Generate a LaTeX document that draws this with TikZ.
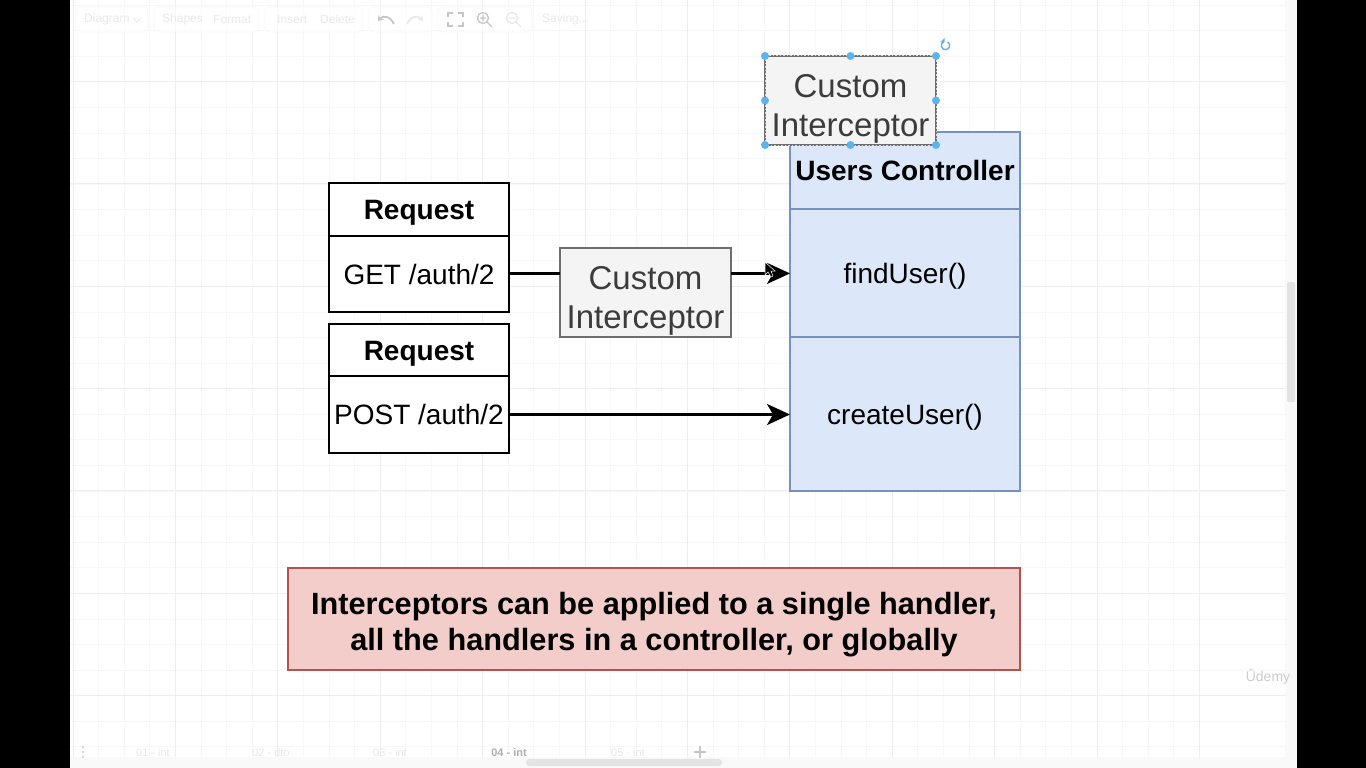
\documentclass[tikz,border=0pt]{standalone}
\usepackage{fontspec}
\setmainfont{Liberation Sans}
\usepackage{xcolor}
\usetikzlibrary{arrows.meta, positioning, calc}
\definecolor{ctrl_blue}{HTML}{DCE7F9}
\definecolor{ctrl_edge}{HTML}{7691BF}
\definecolor{note_red}{HTML}{F2CDCA}
\definecolor{note_edge}{HTML}{B25350}
\definecolor{guard_fill}{HTML}{F4F4F4}
\definecolor{guard_edge}{HTML}{6E6E6E}
\definecolor{guard_text}{HTML}{3C3C3C}
\definecolor{handle_blue}{HTML}{5CB4EE}
\definecolor{grid_major}{HTML}{EEEEEE}
\definecolor{grid_minor}{HTML}{F7F7F7}
\definecolor{ghost}{HTML}{E9E9E9}
\definecolor{bar_grey}{HTML}{F9F9F9}
\definecolor{thumb_grey}{HTML}{E3E3E3}
\tikzset{
  reqbox/.style={draw=black, line width=2.2pt, fill=white, minimum width=180pt, outer sep=0pt, inner sep=0pt, text height=20pt, text depth=0pt, font=\fontsize{28}{30}\selectfont},
  ctrlbox/.style={draw=ctrl_edge, line width=2.4pt, fill=ctrl_blue, minimum width=230pt, outer sep=0pt, inner sep=0pt, text height=20pt, text depth=0pt, font=\fontsize{28}{30}\selectfont},
  guardbox/.style={draw=guard_edge, line width=2.4pt, fill=guard_fill, text=guard_text, minimum width=171pt, minimum height=89pt, outer sep=0pt, inner sep=0pt, align=center, text height=71pt, text depth=0pt, font=\fontsize{33}{38.5}\selectfont},
  flow/.style={line width=2.2pt, draw=black},
  flowtip/.style={-{Stealth[length=23pt, width=21pt, inset=6pt]}},
  handle/.style={circle, fill=handle_blue, minimum size=8pt, inner sep=0pt},
  ghosttext/.style={text=ghost, inner sep=0pt, font=\fontsize{12}{14}\selectfont},
  tabtext/.style={text=ghost, inner sep=0pt, font=\fontsize{11}{14}\selectfont},
  pill/.style={draw=grid_minor, fill=white, fill opacity=0.5, rounded corners=4pt, line width=0.6pt}
}
\begin{document}
\begin{tikzpicture}[x=1pt, y=-1pt]
  \useasboundingbox (0,0) rectangle (1366,768);
  % page and grid
  \fill[white] (0,0) rectangle (1366,768);
  \foreach \gx in {0,...,44} {
    \draw[grid_minor, line width=0.8pt] ({73+25.6*\gx},0) -- ({73+25.6*\gx},768);
  }
  \foreach \gy in {0,...,29} {
    \draw[grid_minor, line width=0.8pt] (70,{5+25.58*\gy}) -- (1297,{5+25.58*\gy});
  }
  \foreach \gx in {0,...,11} {
    \draw[grid_major, line width=0.8pt] ({73+102.4*\gx},0) -- ({73+102.4*\gx},768);
  }
  \foreach \gy in {0,...,6} {
    \draw[grid_major, line width=0.8pt] (70,{81.4+102.3*\gy}) -- (1297,{81.4+102.3*\gy});
  }
  % faded toolbar
  \draw[pill] (76,7) rectangle (148,32);
  \draw[pill] (154,7) rectangle (258,32);
  \draw[pill] (265,7) rectangle (362,32);
  \draw[pill] (369,7) rectangle (432,32);
  \draw[pill] (438,7) rectangle (532,32);
  \node[ghosttext, anchor=west] (menu_diagram) at (84,19.5) {Diagram};
  \node[ghosttext, anchor=west] (menu_shapes) at (162,19.5) {Shapes};
  \node[ghosttext, anchor=west] (menu_format) at (213,19.5) {Format};
  \node[ghosttext, anchor=west] (menu_insert) at (277,19.5) {Insert};
  \node[ghosttext, anchor=west] (menu_delete) at (320,19.5) {Delete};
  \node[ghosttext, anchor=west] (menu_saving) at (542,19.5) {Saving...};
  \draw[ghost, line width=0.9pt] (133,18) -- (137,22) -- (141,18);
  \draw[ghost!85!black, line width=1.8pt, {Stealth[length=5pt, width=7pt]}-] (378,21) .. controls (383,15) and (390,16) .. (394,24);
  \draw[ghost, line width=1.8pt, -{Stealth[length=5pt, width=7pt]}] (407,24) .. controls (411,16) and (418,15) .. (423,21);
  \draw[ghost!85!black, line width=1.4pt] (448,17) -- (448,13) -- (453,13) (458,13) -- (463,13) -- (463,17)
    (463,22) -- (463,26) -- (458,26) (453,26) -- (448,26) -- (448,22);
  \draw[ghost!85!black, line width=1.3pt] (483,18) circle (5.5pt) (487,22) -- (492,27) (480,18) -- (486,18) (483,15) -- (483,21);
  \draw[ghost, line width=1.3pt] (512,18) circle (5.5pt) (516,22) -- (521,27) (509,18) -- (515,18);
  % faded tabs and scroll bars
  \fill[bar_grey] (1285,0) rectangle (1297,768);
  \fill[bar_grey] (70,757) rectangle (1297,768);
  \fill[thumb_grey, rounded corners=2pt] (1287,282) rectangle (1295,402);
  \fill[thumb_grey, rounded corners=3pt] (526,759) rectangle (722,766);
  \foreach \dy in {747,752,757} {
    \fill[ghost!85!black] (83,\dy) circle (1.2pt);
  }
  \node[tabtext] (tab_one) at (153,753) {01 - int};
  \node[tabtext] (tab_two) at (271,753) {02 - dto};
  \node[tabtext] (tab_three) at (390,753) {03 - int};
  \node[tabtext, text=ghost!75!black, font=\fontsize{11}{14}\selectfont\bfseries] (tab_four) at (509,753) {04 - int};
  \node[tabtext] (tab_five) at (628,753) {05 - int};
  \draw[ghost!85!black, line width=2.2pt] (694,752) -- (706,752) (700,746) -- (700,758);
  \node[ghosttext, text=white!80!black, font=\fontsize{14}{16}\selectfont] (udemy) at (1268,677) {Ûdemy};
  % black side bands
  \fill[black] (0,0) rectangle (70,768);
  \fill[black] (1297,0) rectangle (1366,768);

  % requests
  \node[reqbox, minimum height=53pt, font=\fontsize{28}{30}\selectfont\bfseries] (req_get_head) at (419,209.5) {Request};
  \node[reqbox, minimum height=76pt, below=0pt of req_get_head] (req_get) {GET /auth/2};
  \node[reqbox, minimum height=52pt, font=\fontsize{28}{30}\selectfont\bfseries] (req_post_head) at (419,350) {Request};
  \node[reqbox, minimum height=77pt, below=0pt of req_post_head] (req_post) {POST /auth/2};

  % controller
  \node[ctrlbox, minimum height=77pt, font=\fontsize{28}{30}\selectfont\bfseries] (ctrl_head) at (905,170.5) {Users Controller};
  \node[ctrlbox, minimum height=128pt, below=0pt of ctrl_head] (ctrl_find) {findUser()};
  \node[ctrlbox, minimum height=154pt, below=0pt of ctrl_find] (ctrl_create) {createUser()};

  % note
  \node[draw=note_edge, line width=2.4pt, fill=note_red, minimum width=732pt, minimum height=102pt, outer sep=0pt, inner sep=0pt, align=center,
        text height=62pt, text depth=0pt, font=\fontsize{30.7}{36}\selectfont\bfseries] (note) at (654,619)
    {Interceptors can be applied to a single handler,\\all the handlers in a controller, or globally};

  % interceptors
  \node[guardbox] (guard_find) at (645.5,292.5) {Custom\\Interceptor};
  \node[guardbox] (guard_sel) at (850.5,100.5) {Custom\\Interceptor};

  % connectors
  \draw[flow] ([yshift=0.6pt]req_get.east) -- ([yshift=0.6pt]guard_find.west |- req_get.east);
  \draw[flow, flowtip] ([yshift=0.6pt]guard_find.east |- req_get.east) -- ([yshift=0.6pt]ctrl_find.west |- req_get.east);
  \draw[flow, flowtip] (req_post.east) -- (ctrl_create.west |- req_post.east);

  % mouse pointer
  \fill[black] (765,262) -- (765,275) -- (768,272) -- (771,277) -- (773,276) -- (771,271) -- (775,271) -- cycle;
  \draw[white, line width=0.5pt] (765,262) -- (765,275) -- (768,272) -- (771,277) -- (773,276) -- (771,271) -- (775,271) -- cycle;

  % selection
  \draw[white!85!black, dash pattern=on 1.5pt off 2pt, line width=1pt] (guard_sel.north west) rectangle (guard_sel.south east);
  \foreach \hname/\hat in {nw/north west, n/north, ne/north east, w/west, e/east, sw/south west, s/south, se/south east} {
    \node[handle] (sel_\hname) at (guard_sel.\hat) {};
  }
  \coordinate (rot_c) at (945.5,45.5);
  \draw[handle_blue, line width=1.4pt] ($(rot_c)+(60:4.2pt)$) arc (60:-240:4.2pt);
  \fill[handle_blue] ($(rot_c)+(-5.2pt,3.2pt)$) -- ++(4.4pt,0pt) -- ++(0pt,4.4pt) -- cycle;
\end{tikzpicture}
\end{document}
